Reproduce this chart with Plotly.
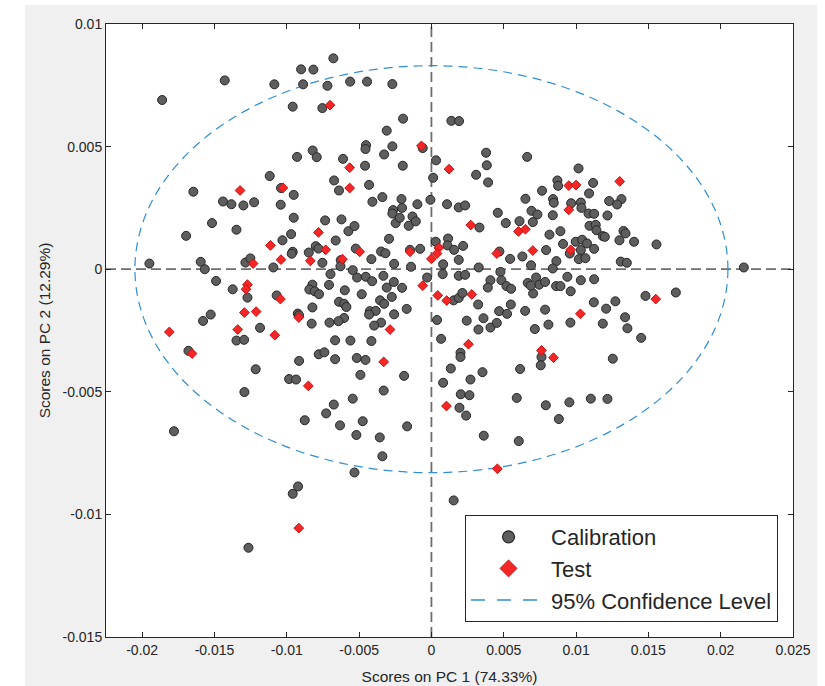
import plotly.graph_objects as go

# PCA scores: calibration samples
cal_pc1 = [
    -0.01862, -0.01429, -0.00901, -0.00816, -0.00678, -0.01086, -0.00887, -0.00719, -0.00562, -0.00445,
    -0.00270, -0.00959, -0.00754, -0.00196, -0.00309, -0.00270, -0.00452, -0.00456, -0.00327, -0.00821,
    -0.00793, -0.00929, -0.00611, -0.00459, -0.00198, -0.00060, -0.01118, -0.00673, -0.00639, -0.00431,
    -0.01646, -0.00952, -0.01040, -0.01441, -0.01383, -0.01300, -0.01226, -0.01042, -0.00408, -0.00339,
    -0.00207, -0.00203, -0.00265, -0.00270, -0.00097, -0.01517, -0.01348, -0.00952, -0.00735, -0.00622,
    -0.00574, -0.00532, -0.01696, -0.01030, -0.00970, -0.00662, -0.00293, -0.00247, -0.00219, -0.00157,
    -0.00131, -0.00108, -0.00800, -0.00781, -0.00959, -0.00966, -0.00848, -0.00523, -0.00348, -0.00318,
    -0.00148, -0.00078, -0.01950, -0.01595, -0.01286, -0.01252, -0.00754, -0.00627, -0.00415, -0.00258,
    0.00138, 0.00191, 0.00032, 0.00012, 0.00378, 0.00383, 0.00309, 0.00392, 0.00662, 0.01017,
    0.00871, 0.00876, 0.01118, 0.01090, 0.00765, 0.00650, 0.00841, 0.00846, 0.00966, 0.01033,
    0.01037, 0.01229, 0.01314, 0.01284, -0.00007, 0.00108, 0.00189, 0.00233, 0.00459, 0.00692,
    0.00733, 0.00839, 0.01086, 0.01125, 0.01217, 0.00514, 0.00609, 0.00701, 0.00332, 0.00816,
    0.00892, 0.01093, 0.01136, 0.01141, 0.01185, 0.01199, 0.01328, 0.01342, 0.01300, 0.01401,
    0.01556, 0.00115, 0.00111, 0.00157, 0.00219, 0.00030, 0.00189, 0.00081, 0.00470, 0.00544,
    0.00629, 0.00689, 0.00793, 0.00864, 0.00910, 0.00998, 0.01042, 0.01076, 0.01033, 0.01019,
    0.01065, 0.01125, 0.00957, 0.01309, 0.01351,
    -0.01567, -0.01093, -0.00629, -0.00141, -0.00544, -0.01489, -0.01374, -0.01272, -0.00698, -0.00514,
    -0.00454, -0.00410, -0.00332, -0.00260, -0.00309, -0.00203, -0.00274, -0.00355, -0.00327, -0.00171,
    -0.00426, -0.00385, -0.00431, -0.00258, -0.00348, -0.00396, -0.00823, -0.00844, -0.00807, -0.00777,
    -0.00708, -0.00599, -0.00482, -0.01070, -0.00639, -0.00604, -0.00588, -0.00823, -0.00924, -0.00604,
    -0.00643, -0.00705, -0.00828, -0.01526, -0.01579, -0.01185, -0.01348, -0.01295, -0.01680, -0.00666,
    -0.00560, -0.00415, -0.00779, -0.00740, -0.00666, -0.00516, -0.00456, -0.00915, -0.01215, -0.00984,
    -0.00936, -0.00491, -0.00189, -0.01293, -0.00330, -0.00544, -0.00675, -0.00728, -0.00876, -0.00632,
    -0.00475, -0.00519, -0.00357, -0.00168, -0.01780, -0.00339, -0.00532, -0.00922, -0.00959, -0.01265,
    -0.00915,
    0.00327, 0.00839, 0.02160, 0.00477, -0.00030, 0.00078, 0.00189, 0.00233, 0.00408, 0.00484,
    0.00519, 0.00551, 0.00390, 0.00666, 0.00724, 0.00745, 0.00786, 0.00703, 0.00687, 0.00862,
    0.00892, 0.00940, 0.00963, 0.01033, 0.01125, 0.01480, 0.01690, 0.00154, 0.00189, 0.00214,
    0.00323, 0.00549, 0.00468, 0.00523, 0.00648, 0.00786, 0.01123, 0.01208, 0.01272, 0.01339,
    0.01355, 0.01185, 0.00961, 0.00809, 0.00715, 0.00360, 0.00244, 0.00325, 0.00408, 0.00452,
    0.00039, 0.00067, 0.01450, 0.00201, 0.00201, 0.00134, 0.00353, 0.00613, 0.00761, 0.00756,
    0.01254, 0.00081, 0.00270, 0.00203, 0.00263, 0.00194, 0.00240, 0.00590, 0.00791, 0.00954,
    0.01102, 0.01217, 0.00881, 0.00362, 0.00604, 0.00154,
]
cal_pc2 = [
    0.00690, 0.00770, 0.00815, 0.00814, 0.00860, 0.00754, 0.00754, 0.00748, 0.00765, 0.00765,
    0.00755, 0.00663, 0.00657, 0.00614, 0.00565, 0.00501, 0.00506, 0.00490, 0.00468, 0.00484,
    0.00457, 0.00458, 0.00450, 0.00422, 0.00422, 0.00494, 0.00380, 0.00362, 0.00321, 0.00344,
    0.00316, 0.00303, 0.00331, 0.00276, 0.00265, 0.00260, 0.00273, 0.00263, 0.00275, 0.00294,
    0.00286, 0.00250, 0.00241, 0.00227, 0.00265, 0.00188, 0.00161, 0.00210, 0.00199, 0.00203,
    0.00155, 0.00176, 0.00136, 0.00118, 0.00143, 0.00117, 0.00124, 0.00188, 0.00210, 0.00177,
    0.00215, 0.00195, 0.00094, 0.00084, 0.00071, 0.00063, 0.00068, 0.00084, 0.00072, 0.00065,
    0.00079, 0.00083, 0.00023, 0.00030, 0.00027, 0.00044, 0.00026, 0.00037, 0.00041, 0.00022,
    0.00605, 0.00604, 0.00444, 0.00373, 0.00475, 0.00424, 0.00385, 0.00354, 0.00458, 0.00411,
    0.00362, 0.00340, 0.00352, 0.00309, 0.00320, 0.00287, 0.00286, 0.00271, 0.00269, 0.00272,
    0.00250, 0.00278, 0.00286, 0.00264, 0.00283, 0.00265, 0.00252, 0.00260, 0.00230, 0.00238,
    0.00223, 0.00220, 0.00227, 0.00226, 0.00219, 0.00188, 0.00196, 0.00192, 0.00170, 0.00141,
    0.00155, 0.00177, 0.00181, 0.00159, 0.00135, 0.00132, 0.00156, 0.00146, 0.00118, 0.00112,
    0.00101, 0.00125, 0.00097, 0.00079, 0.00095, 0.00112, 0.00038, 0.00020, 0.00072, 0.00042,
    0.00052, 0.00016, 0.00078, 0.00033, 0.00103, 0.00112, 0.00120, 0.00105, 0.00078, 0.00041,
    0.00045, 0.00083, 0.00064, 0.00031, 0.00026,
    0.00000, 0.00007, 0.00012, 0.00010, -0.00004, -0.00048, -0.00082, -0.00116, -0.00020, -0.00034,
    -0.00031, -0.00049, -0.00027, -0.00052, -0.00075, -0.00076, -0.00113, -0.00127, -0.00141, -0.00162,
    -0.00171, -0.00170, -0.00185, -0.00184, -0.00218, -0.00230, -0.00063, -0.00083, -0.00090, -0.00102,
    -0.00064, -0.00086, -0.00102, -0.00107, -0.00133, -0.00141, -0.00154, -0.00156, -0.00181, -0.00199,
    -0.00212, -0.00218, -0.00222, -0.00185, -0.00211, -0.00239, -0.00291, -0.00288, -0.00333, -0.00290,
    -0.00291, -0.00293, -0.00347, -0.00339, -0.00367, -0.00362, -0.00370, -0.00374, -0.00408, -0.00448,
    -0.00450, -0.00431, -0.00435, -0.00501, -0.00495, -0.00528, -0.00552, -0.00588, -0.00616, -0.00637,
    -0.00620, -0.00676, -0.00686, -0.00641, -0.00661, -0.00763, -0.00829, -0.00886, -0.00916, -0.01136,
    -0.00188,
    0.00007, 0.00003, 0.00007, -0.00011, -0.00034, -0.00020, -0.00027, -0.00023, -0.00045, -0.00045,
    -0.00069, -0.00080, -0.00075, -0.00056, -0.00034, -0.00063, -0.00052, -0.00099, -0.00067, -0.00069,
    -0.00069, -0.00031, -0.00090, -0.00045, -0.00041, -0.00109, -0.00095, -0.00127, -0.00117, -0.00097,
    -0.00144, -0.00144, -0.00171, -0.00182, -0.00170, -0.00165, -0.00135, -0.00161, -0.00131, -0.00196,
    -0.00241, -0.00222, -0.00218, -0.00226, -0.00244, -0.00200, -0.00210, -0.00246, -0.00238, -0.00219,
    -0.00207, -0.00284, -0.00280, -0.00341, -0.00358, -0.00405, -0.00420, -0.00407, -0.00358, -0.00392,
    -0.00365, -0.00463, -0.00450, -0.00510, -0.00514, -0.00565, -0.00597, -0.00525, -0.00555, -0.00543,
    -0.00528, -0.00529, -0.00611, -0.00679, -0.00701, -0.00943,
]

# PCA scores: test samples
test_pc1 = [
    -0.00701, -0.00069, -0.00565, -0.00565, -0.01323, -0.01026, -0.00781, -0.01113, -0.00731, -0.00496,
    -0.01040, -0.00837, -0.00615, -0.00148, -0.01233,
    0.00122, 0.00950, 0.01000, 0.01302, 0.00950, 0.00272, 0.00602, 0.00650, 0.00051, 0.00039,
    0.00000, 0.00452, 0.00701, 0.00963,
    -0.01272, -0.01282, -0.01044, -0.01293, -0.01212, -0.00917, -0.01812, -0.01339, -0.01083, -0.00286,
    -0.01655, -0.00330, -0.00851, -0.00917, -0.00060,
    0.00044, 0.00106, 0.00279, 0.01030, 0.01551, 0.00256, 0.00761, 0.00844, 0.00104, 0.00456,
]
test_pc2 = [
    0.00669, 0.00503, 0.00414, 0.00331, 0.00321, 0.00332, 0.00150, 0.00097, 0.00079, 0.00071,
    0.00039, 0.00034, 0.00041, 0.00071, 0.00023,
    0.00408, 0.00341, 0.00343, 0.00358, 0.00242, 0.00180, 0.00154, 0.00163, 0.00087, 0.00064,
    0.00042, 0.00064, 0.00076, 0.00079,
    -0.00063, -0.00082, -0.00122, -0.00177, -0.00173, -0.00197, -0.00256, -0.00246, -0.00269, -0.00246,
    -0.00344, -0.00378, -0.00476, -0.01056, -0.00067,
    -0.00107, -0.00128, -0.00103, -0.00182, -0.00122, -0.00306, -0.00331, -0.00361, -0.00558, -0.00814,
]

# 95% confidence ellipse half-widths along PC1 and PC2
ellipse_pc1 = 0.0205
ellipse_pc2 = 0.0083

x_range = [-0.0225, 0.025]
y_range = [-0.015, 0.01]
x_ticks = [-0.02, -0.015, -0.01, -0.005, 0, 0.005, 0.01, 0.015, 0.02, 0.025]
x_tick_labels = ["-0.02", "-0.015", "-0.01", "-0.005", "0", "0.005", "0.01", "0.015", "0.02", "0.025"]
y_ticks = [-0.015, -0.01, -0.005, 0, 0.005, 0.01]
y_tick_labels = ["-0.015", "-0.01", "-0.005", "0", "0.005", "0.01"]

FONT = "Liberation Sans, Arial, Helvetica, sans-serif"
INK = "#262626"
GRAY_FILL = "#5e5e5e"
GRAY_EDGE = "#262626"
RED_FILL = "#f52626"
RED_EDGE = "#c81212"
BLUE = "#2f8ed6"

fig = go.Figure()

fig.add_trace(go.Scatter(
    x=cal_pc1, y=cal_pc2, mode="markers", name="Calibration", showlegend=False,
    marker=dict(symbol="circle", size=9, color=GRAY_FILL, line=dict(color=GRAY_EDGE, width=1)),
))
fig.add_trace(go.Scatter(
    x=test_pc1, y=test_pc2, mode="markers", name="Test", showlegend=False,
    marker=dict(symbol="diamond", size=7.5, color=RED_FILL, line=dict(color=RED_EDGE, width=1)),
))

# legend keys (larger symbols than the plotted markers)
fig.add_trace(go.Scatter(
    x=[None], y=[None], mode="markers", name="Calibration", legendgroup="cal",
    marker=dict(symbol="circle", size=12, color=GRAY_FILL, line=dict(color=GRAY_EDGE, width=1.2)),
))
fig.add_trace(go.Scatter(
    x=[None], y=[None], mode="markers", name="Test", legendgroup="test",
    marker=dict(symbol="diamond", size=13, color=RED_FILL, line=dict(color=RED_EDGE, width=1)),
))
fig.add_trace(go.Scatter(
    x=[None], y=[None], mode="lines", name="95% Confidence Level", legendgroup="ci",
    line=dict(color=BLUE, width=1.6, dash="14px,12px"),
))

shapes = [
    # zero reference lines
    dict(type="line", xref="x", yref="paper", x0=0, x1=0, y0=0, y1=1, layer="below",
         line=dict(color="#6e6e6e", width=1.8, dash="10px,5px")),
    dict(type="line", xref="paper", yref="y", x0=0, x1=1, y0=0, y1=0, layer="below",
         line=dict(color="#6e6e6e", width=1.8, dash="10px,5px")),
    # confidence ellipse
    dict(type="circle", xref="x", yref="y", x0=-ellipse_pc1, x1=ellipse_pc1,
         y0=-ellipse_pc2, y1=ellipse_pc2, layer="below",
         line=dict(color=BLUE, width=1.2, dash="9px,6px")),
    # white page edges around the grey figure window
    dict(type="rect", xref="paper", yref="paper", x0=-0.2, x1=-0.1179, y0=-0.2, y1=1.2,
         layer="above", fillcolor="white", line=dict(width=0)),
    dict(type="rect", xref="paper", yref="paper", x0=1.0349, x1=1.2, y0=-0.2, y1=1.2,
         layer="above", fillcolor="white", line=dict(width=0)),
    dict(type="rect", xref="paper", yref="paper", x0=-0.2, x1=1.2, y0=1.031, y1=1.2,
         layer="above", fillcolor="white", line=dict(width=0)),
]

axis_common = dict(
    showgrid=False, zeroline=False, showline=True, linecolor=INK, linewidth=1,
    mirror="allticks", ticks="inside", ticklen=5, tickwidth=1, tickcolor=INK,
    tickfont=dict(family=FONT, size=14, color=INK), automargin=False,
)

fig.update_layout(
    width=825, height=686,
    margin=dict(l=106, r=32, t=24, b=49),
    paper_bgcolor="#f0f0f0", plot_bgcolor="white",
    font=dict(family=FONT, color=INK),
    shapes=shapes,
    xaxis=dict(range=x_range, tickvals=x_ticks, ticktext=x_tick_labels,
               title=dict(text="Scores on PC 1 (74.33%)", font=dict(family=FONT, size=15.5, color=INK), standoff=14),
               **axis_common),
    yaxis=dict(range=y_range, tickvals=y_ticks, ticktext=y_tick_labels,
               title=dict(text="Scores on PC 2 (12.29%)", font=dict(family=FONT, size=15.5, color=INK), standoff=8),
               **axis_common),
    legend=dict(
        x=0.5226, y=0.1990, xanchor="left", yanchor="top",
        bgcolor="white", bordercolor=INK, borderwidth=1,
        font=dict(family=FONT, size=22, color=INK),
        itemwidth=75, tracegroupgap=0, traceorder="grouped",
    ),
    showlegend=True,
)

fig.write_html("out.html")
